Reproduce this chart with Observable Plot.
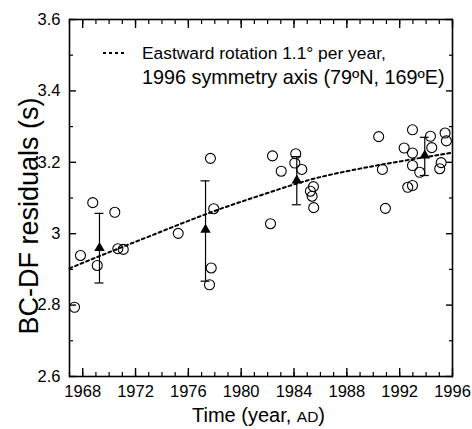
<!DOCTYPE html>
<html><head><meta charset="utf-8">
<script src="https://cdn.jsdelivr.net/npm/d3@7"></script>
<script src="https://cdn.jsdelivr.net/npm/@observablehq/plot@0.6"></script>
<style>body{margin:0;background:#fff} svg{display:block}</style>
</head><body><div id="chart"></div>
<script>
// Individual observations (open circles)
const obsYear = [1967.38, 1967.83, 1968.76, 1969.10, 1970.43, 1970.66, 1971.07, 1975.23,
  1977.67, 1977.92, 1977.73, 1977.60, 1982.22, 1982.37, 1983.03, 1984.13, 1984.06, 1984.59,
  1985.47, 1985.24, 1985.37, 1985.49, 1990.41, 1990.69, 1990.92, 1992.97, 1992.34, 1992.97,
  1992.97, 1993.52, 1992.61, 1992.97, 1994.33, 1994.43, 1995.14, 1995.03, 1995.44, 1995.54];
const obsVal = [2.794, 2.939, 3.087, 2.911, 3.060, 2.958, 2.956, 3.001,
  3.211, 3.070, 2.904, 2.857, 3.028, 3.218, 3.175, 3.224, 3.198, 3.180,
  3.132, 3.119, 3.105, 3.073, 3.272, 3.180, 3.071, 3.291, 3.240, 3.226,
  3.191, 3.172, 3.130, 3.135, 3.273, 3.241, 3.199, 3.182, 3.282, 3.260];
// Group means (filled triangles) with error bars
const meanYear = [1969.27, 1977.30, 1984.21, 1993.90];
const meanVal = [2.960, 3.011, 3.149, 3.219];
const errLo = [2.862, 2.867, 3.081, 3.163];
const errHi = [3.057, 3.148, 3.216, 3.270];
// Model curve (dotted)
const curveYear = [1967, 1970, 1973, 1976, 1979, 1982, 1985, 1988, 1991, 1994, 1996];
const curveVal = [2.903, 2.948, 2.992, 3.036, 3.077, 3.114, 3.149, 3.175, 3.196, 3.215, 3.227];
// Axes
const xMajor = [1968, 1972, 1976, 1980, 1984, 1988, 1992, 1996];
const xMinor = d3.range(1967, 1997);
const yMajor = [2.6, 2.8, 3.0, 3.2, 3.4, 3.6];
const yTickLabels = ["2.6", "2.8", "3", "3.2", "3.4", "3.6"];
const yMinor = [2.7, 2.9, 3.1, 3.3, 3.5];
const legendLines = ["Eastward rotation 1.1\u00b0 per year,", "1996 symmetry axis (79\u00baN, 169\u00baE)"];
const yLabel = "BC-DF residuals (s)";
const xLabelMain = "Time (year, ";
const xLabelSmall = "AD";

const FONT = "'Liberation Sans', Arial, Helvetica, sans-serif";
const obs = obsYear.map((x, i) => ({x, y: obsVal[i]}));
const means = meanYear.map((x, i) => ({x, y: meanVal[i], lo: errLo[i], hi: errHi[i]}));
const curve = curveYear.map((x, i) => ({x, y: curveVal[i]}));

function legendMark(index, scales, values, dims) {
  const g = d3.create("svg:g").attr("font-family", FONT).attr("fill", "black").attr("text-anchor", "start");
  const x0 = dims.marginLeft, y0 = dims.marginTop;
  g.append("line").attr("x1", x0 + 34).attr("x2", x0 + 58).attr("y1", y0 + 34).attr("y2", y0 + 34)
    .attr("stroke", "black").attr("stroke-width", 2).attr("stroke-dasharray", "3,3");
  g.append("text").attr("x", x0 + 73).attr("y", y0 + 34).attr("dy", "0.35em").attr("font-size", 17.4).text(legendLines[0]);
  g.append("text").attr("x", x0 + 73).attr("y", y0 + 58).attr("dy", "0.35em").attr("font-size", 19.8).text(legendLines[1]);
  return g.node();
}
function xLabelMark(index, scales, values, dims) {
  const cx = (dims.marginLeft + dims.width - dims.marginRight) / 2;
  const t = d3.create("svg:text").attr("font-family", FONT).attr("fill", "black")
    .attr("font-size", 20).attr("text-anchor", "middle")
    .attr("x", cx - 2).attr("y", dims.height - dims.marginBottom + 39).attr("dy", "0.35em");
  t.append("tspan").text(xLabelMain);
  t.append("tspan").attr("font-size", 15.5).text(xLabelSmall);
  t.append("tspan").text(")");
  return t.node();
}

const chart = Plot.plot({
  width: 472, height: 429,
  marginLeft: 69, marginRight: 20, marginTop: 19, marginBottom: 53,
  style: {fontFamily: FONT, color: "black", background: "white"},
  x: {domain: [1967, 1996], axis: null},
  y: {domain: [2.6, 3.6], axis: null},
  marks: [
    Plot.axisX(xMinor, {anchor: "bottom", tickSize: -4, tickFormat: () => "", label: null, strokeWidth: 1.2}),
    Plot.axisX(xMajor, {anchor: "bottom", tickSize: -8, tickPadding: 17, tickFormat: d => String(d), fontSize: 16.5, label: null, strokeWidth: 1.4}),
    Plot.axisX(xMinor, {anchor: "top", tickSize: -4, tickFormat: () => "", label: null, strokeWidth: 1.2}),
    Plot.axisX(xMajor, {anchor: "top", tickSize: -8, tickFormat: () => "", label: null, strokeWidth: 1.4}),
    Plot.axisY(yMinor, {anchor: "left", tickSize: -4, tickFormat: () => "", label: null, strokeWidth: 1.2}),
    Plot.axisY(yMajor, {anchor: "left", tickSize: -7, tickPadding: 16, tickFormat: (d, i) => yTickLabels[i], fontSize: 16.5, label: null, strokeWidth: 1.4}),
    Plot.axisY(yMinor, {anchor: "right", tickSize: -4, tickFormat: () => "", label: null, strokeWidth: 1.2}),
    Plot.axisY(yMajor, {anchor: "right", tickSize: -7, tickFormat: () => "", label: null, strokeWidth: 1.4}),
    Plot.frame({stroke: "black", strokeWidth: 1.6}),
    Plot.line(curve, {x: "x", y: "y", curve: "natural", stroke: "black", strokeWidth: 2, strokeDasharray: "3,3"}),
    Plot.ruleX(means, {x: "x", y1: "lo", y2: "hi", stroke: "black", strokeWidth: 1.2}),
    Plot.ruleY(means, {y: "lo", x1: "x", x2: "x", insetLeft: -4.5, insetRight: -4.5, stroke: "black", strokeWidth: 1.2}),
    Plot.ruleY(means, {y: "hi", x1: "x", x2: "x", insetLeft: -4.5, insetRight: -4.5, stroke: "black", strokeWidth: 1.2}),
    Plot.dot(obs, {x: "x", y: "y", r: 5, stroke: "black", strokeWidth: 1.1, fill: "none"}),
    Plot.dot(means, {x: "x", y: "y", symbol: "triangle", r: 3.9, fill: "black", stroke: "none"}),
    Plot.text([yLabel], {frameAnchor: "left", textAnchor: "middle", rotate: -90, dx: -40, dy: 18, fontSize: 27, fill: "black", fontFamily: FONT}),
    xLabelMark,
    legendMark
  ]
});
document.getElementById("chart").append(chart);
</script></body></html>
